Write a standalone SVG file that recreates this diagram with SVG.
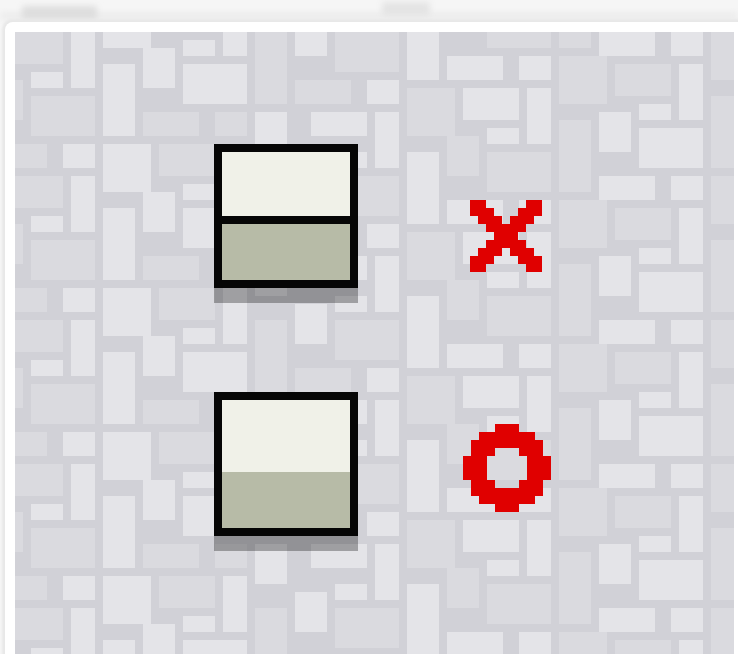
<svg xmlns="http://www.w3.org/2000/svg" width="738" height="654" viewBox="0 0 738 654">
<defs>
<style>
.l{fill:#e4e4e8}
.m{fill:#dadadf}
.k{fill:#060606}
.cream{fill:#f0f1e8}
.olive{fill:#b7bba7}
.red{fill:#e00000}
.sh{fill:#000;opacity:.3}
</style>
<filter id="blur" x="-50%" y="-50%" width="200%" height="200%"><feGaussianBlur stdDeviation="3"/></filter>
<filter id="soft" x="-10%" y="-10%" width="120%" height="140%"><feGaussianBlur stdDeviation="1"/></filter>
<filter id="smooth" x="-2%" y="-2%" width="104%" height="104%"><feGaussianBlur stdDeviation="0.6"/></filter>
<clipPath id="panel"><rect x="15" y="32" width="719" height="622"/></clipPath>
<g id="tileL">
<rect class="m" x="15" y="32" width="48" height="32"/>
<rect class="l" x="71" y="32" width="24" height="56"/>
<rect class="l" x="103" y="144" width="48" height="48"/>
<rect class="l" x="143" y="48" width="32" height="40"/>
<rect class="l" x="183" y="40" width="32" height="16"/>
<rect class="l" x="223" y="144" width="24" height="56"/>
<rect class="m" x="255" y="32" width="32" height="72"/>
<rect class="l" x="295" y="160" width="32" height="40"/>
<rect class="m" x="335" y="32" width="64" height="40"/>
<rect class="m" x="295" y="80" width="56" height="24"/>
<rect class="l" x="31" y="72" width="32" height="16"/>
<rect class="m" x="7" y="80" width="16" height="40"/>
<rect class="l" x="103" y="64" width="32" height="72"/>
<rect class="l" x="183" y="64" width="64" height="40"/>
<rect class="m" x="31" y="96" width="64" height="40"/>
<rect class="m" x="143" y="112" width="56" height="24"/>
<rect class="m" x="215" y="112" width="32" height="24"/>
<rect class="l" x="255" y="112" width="32" height="40"/>
<rect class="l" x="311" y="112" width="56" height="24"/>
<rect class="m" x="7" y="144" width="40" height="24"/>
<rect class="l" x="63" y="144" width="32" height="24"/>
<rect class="m" x="159" y="144" width="56" height="32"/>
<rect class="l" x="335" y="152" width="32" height="16"/>
</g>
<g id="tileR">
<rect class="l" x="407" y="152" width="32" height="72"/>
<rect class="m" x="487" y="152" width="64" height="40"/>
<rect class="m" x="559" y="120" width="32" height="72"/>
<rect class="l" x="599" y="32" width="56" height="24"/>
<rect class="l" x="671" y="32" width="32" height="24"/>
<rect class="m" x="711" y="32" width="24" height="48"/>
<rect class="l" x="447" y="56" width="56" height="24"/>
<rect class="l" x="519" y="56" width="32" height="24"/>
<rect class="m" x="559" y="56" width="48" height="48"/>
<rect class="m" x="615" y="64" width="56" height="32"/>
<rect class="l" x="679" y="64" width="24" height="56"/>
<rect class="l" x="367" y="80" width="32" height="24"/>
<rect class="m" x="407" y="88" width="48" height="48"/>
<rect class="l" x="463" y="88" width="56" height="32"/>
<rect class="l" x="527" y="88" width="24" height="56"/>
<rect class="l" x="375" y="112" width="24" height="56"/>
<rect class="m" x="711" y="96" width="24" height="72"/>
<rect class="l" x="639" y="104" width="32" height="16"/>
<rect class="l" x="599" y="112" width="32" height="40"/>
<rect class="l" x="487" y="128" width="32" height="16"/>
<rect class="m" x="447" y="136" width="32" height="40"/>
<rect class="l" x="639" y="128" width="64" height="40"/>
</g>
</defs>

<rect width="738" height="654" fill="#f6f6f6"/>
<g id="top-haze">
<rect x="0" y="12" width="738" height="8" fill="#ececec" filter="url(#blur)"/>
<rect x="22" y="6" width="75" height="14" fill="#dedede" filter="url(#blur)"/>
<rect x="382" y="2" width="48" height="14" fill="#e4e4e4" filter="url(#blur)"/>
</g>
<rect x="2" y="19" width="750" height="660" rx="10" fill="#e8e8e8" filter="url(#soft)"/>
<rect x="5" y="22" width="745" height="650" rx="8" fill="#ffffff"/>

<g id="floor" clip-path="url(#panel)">
<g filter="url(#smooth)">
<rect x="10" y="28" width="728" height="630" fill="#d1d1d7"/>
<use href="#tileL" y="-144"/>
<use href="#tileL" y="0"/>
<use href="#tileL" y="144"/>
<use href="#tileL" y="288"/>
<use href="#tileL" y="432"/>
<use href="#tileL" y="576"/>
<use href="#tileR" y="-144"/>
<use href="#tileR" y="0"/>
<use href="#tileR" y="144"/>
<use href="#tileR" y="288"/>
<use href="#tileR" y="432"/>
<use href="#tileR" y="576"/>
</g>
</g>

<g id="box1">
<rect class="sh" x="214" y="288" width="144" height="15" filter="url(#smooth)"/>
<rect class="k" x="214" y="144" width="144" height="144"/>
<rect class="cream" x="222" y="152" width="128" height="64"/>
<rect class="olive" x="222" y="224" width="128" height="56"/>
</g>

<g id="box2">
<rect class="sh" x="214" y="536" width="144" height="15" filter="url(#smooth)"/>
<rect class="k" x="214" y="392" width="144" height="144"/>
<rect class="cream" x="222" y="400" width="128" height="72"/>
<rect class="olive" x="222" y="472" width="128" height="56"/>
</g>

<g id="markX" class="red" shape-rendering="crispEdges" transform="translate(470 200) scale(8)">
<path d="M0 0h2v1H0z M7 0h2v1H7z M0 1h3v1H0z M6 1h3v1H6z M1 2h3v1H1z M5 2h3v1H5z M2 3h5v1H2z M3 4h3v1H3z M2 5h5v1H2z M1 6h3v1H1z M5 6h3v1H5z M0 7h3v1H0z M6 7h3v1H6z M0 8h2v1H0z M7 8h2v1H7z"/>
</g>

<g id="markO" class="red" shape-rendering="crispEdges" transform="translate(463 424) scale(8)">
<path d="M4 0h3v1H4z M2 1h7v1H2z M1 2h9v1H1z M1 3h3v1H1z M7 3h3v1H7z M0 4h3v3H0z M8 4h3v3H8z M1 7h3v1H1z M7 7h3v1H7z M1 8h9v1H1z M2 9h7v1H2z M4 10h3v1H4z"/>
</g>
</svg>
